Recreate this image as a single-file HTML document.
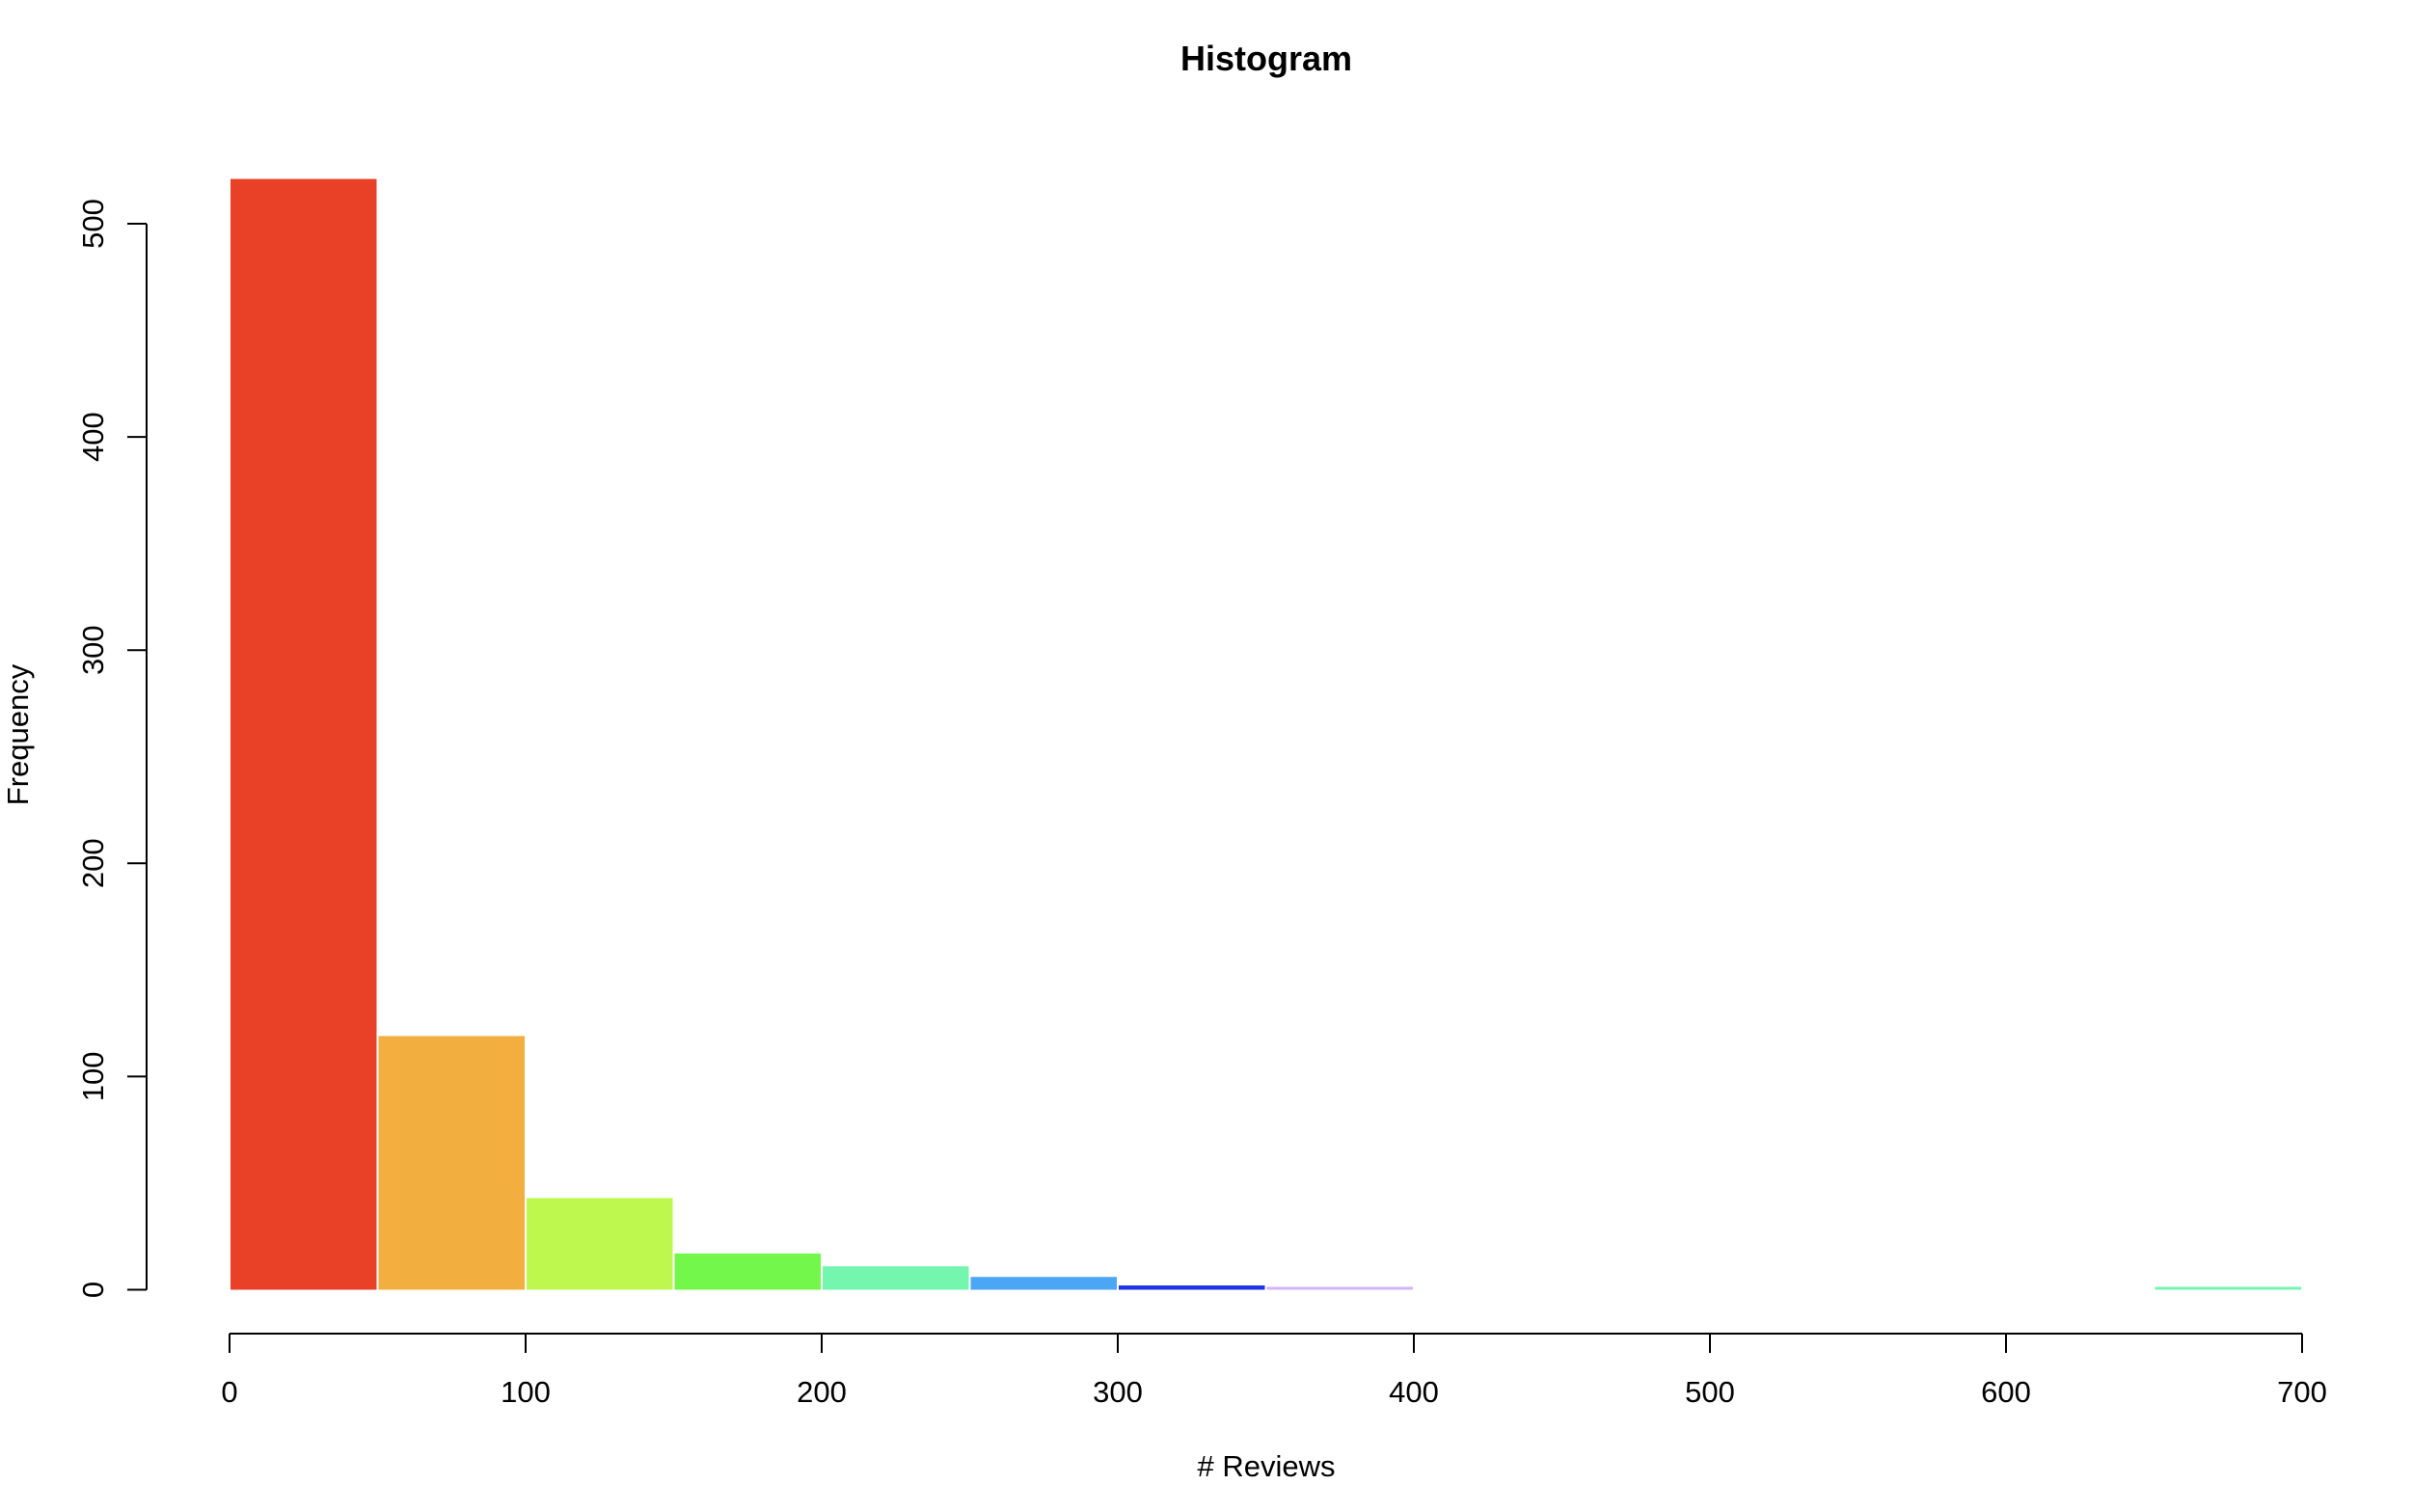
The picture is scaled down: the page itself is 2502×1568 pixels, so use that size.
<!DOCTYPE html>
<html><head><meta charset="utf-8"><style>
html,body{margin:0;padding:0;background:#fff;}
svg{display:block;font-family:"Liberation Sans",Arial,sans-serif;}
</style></head><body>
<svg id="chart" width="2502" height="1568" viewBox="0 0 2502 1568">
<text x="1313" y="73" text-anchor="middle" font-size="36" font-weight="bold">Histogram</text>
<text x="1313" y="1531" text-anchor="middle" font-size="31"># Reviews</text>
<text transform="translate(29,762) rotate(-90)" text-anchor="middle" font-size="31">Frequency</text>
<g id="bars"></g>
<g id="xaxis"></g>
<g id="yaxis"></g>
</svg>
<script>
const binStarts = [0,50,100,150,200,250,300,350,400,450,500,550,600,650];
const counts = [521,119,43,17,11,6,2,1,0,0,0,0,0,1];
const barColors = ["#E94128","#F3AE40","#BEF84F","#72F74A","#75F6AF","#4BA6F6","#1D33E8","#D2B5F8","#F86BD8","#F54E6E","#E94128","#F3AE40","#BEF84F","#75F6AF"];
const xTicks = [0,100,200,300,400,500,600,700];
const yTicks = [0,100,200,300,400,500];
const binWidth = 50;
const NS = "http://www.w3.org/2000/svg";
function xs(v){return 238 + v*(2387-238)/700;}
function ys(v){return 1337.5 - v*(1337.5-232)/500;}
function mk(tag, attrs, parent){const e=document.createElementNS(NS,tag);for(const k in attrs)e.setAttribute(k,attrs[k]);parent.appendChild(e);return e;}
const bars=document.getElementById('bars');
binStarts.forEach((b,i)=>{
  if(counts[i]<=0) return;
  const h=Math.max(ys(0)-ys(counts[i]),3);
  const r=mk('rect',{x:xs(b)+1,y:ys(0)-h,width:xs(b+binWidth)-xs(b)-2,height:h,fill:barColors[i]},bars);
  
  
});
const xa=document.getElementById('xaxis');
mk('line',{x1:xs(0),x2:xs(700),y1:1383,y2:1383,stroke:'#000','stroke-width':2},xa);
xTicks.forEach(t=>{
  mk('line',{x1:xs(t),x2:xs(t),y1:1383,y2:1403,stroke:'#000','stroke-width':2},xa);
  const tx=mk('text',{x:xs(t),y:1454,'text-anchor':'middle','font-size':31},xa);
  tx.textContent=t;
  
  
});
const ya=document.getElementById('yaxis');
mk('line',{x1:152,x2:152,y1:ys(0),y2:ys(500),stroke:'#000','stroke-width':2},ya);
yTicks.forEach(t=>{
  mk('line',{x1:132,x2:152,y1:ys(t),y2:ys(t),stroke:'#000','stroke-width':2},ya);
  const tx=mk('text',{transform:'translate(107,'+ys(t)+') rotate(-90)','text-anchor':'middle','font-size':31},ya);
  tx.textContent=t;
  
  
});
</script>
</body></html>
